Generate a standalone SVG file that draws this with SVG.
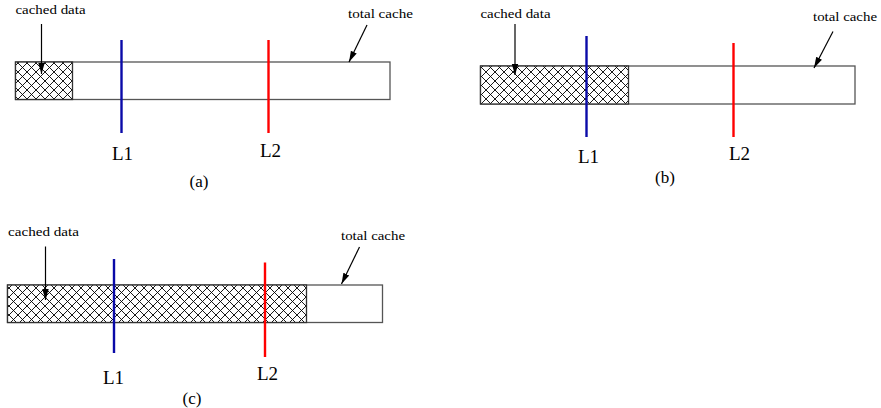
<svg xmlns="http://www.w3.org/2000/svg" width="881" height="408" viewBox="0 0 881 408">
  <style>
    .bar { fill: #ffffff; stroke: #555555; stroke-width: 1.3; }
    .fill { fill: url(#xhatch); stroke: #333333; stroke-width: 1.3; }
    .l1 { stroke: #0a0aa8; stroke-width: 2.4; }
    .l2 { stroke: #ff0000; stroke-width: 2.4; }
    .small { font-family: "Liberation Serif", "Times New Roman", serif; font-size: 13.5px; fill: #000; }
    .big { font-family: "Liberation Serif", "Times New Roman", serif; font-size: 19px; fill: #000; }
    .cap { font-family: "Liberation Serif", "Times New Roman", serif; font-size: 17px; fill: #000; text-anchor: middle; }
    .arrow { stroke: #000; stroke-width: 1.2; fill: none; marker-end: url(#head); }
  </style>
  <defs>
    <pattern id="xhatch" patternUnits="userSpaceOnUse" width="9" height="9">
      <rect width="9" height="9" fill="#ffffff"/>
      <path d="M0,0 L9,9 M9,0 L0,9" stroke="#000" stroke-width="0.9"/>
    </pattern>
    <marker id="head" markerWidth="12" markerHeight="8" refX="11" refY="4" orient="auto" markerUnits="userSpaceOnUse">
      <path d="M0,0.8 L11,4 L0,7.2 Z" fill="#000"/>
    </marker>
  </defs>

  <!-- panel (a) -->
  <g id="bar-a">
    <rect class="bar" x="15.5" y="62" width="374.5" height="37.5"/>
    <rect class="fill" x="15.5" y="62" width="57" height="37.5"/>
  </g>
  <g id="level-a">
    <line class="l1" x1="121.5" y1="40" x2="121.5" y2="133"/>
    <line class="l2" x1="268.5" y1="40" x2="268.5" y2="133"/>
    <text class="big" x="112" y="160">L1</text>
    <text class="big" x="260" y="157">L2</text>
  </g>
  <g id="labels-a">
    <text class="small" x="15.5" y="13.5" textLength="70" lengthAdjust="spacingAndGlyphs">cached data</text>
    <text class="small" x="348" y="17.5" textLength="65" lengthAdjust="spacingAndGlyphs">total cache</text>
    <text class="cap" x="199" y="187">(a)</text>
  </g>

  <!-- panel (b) -->
  <g id="bar-b">
    <rect class="bar" x="480.5" y="66" width="374.5" height="38"/>
    <rect class="fill" x="480.5" y="66" width="148" height="38"/>
  </g>
  <g id="level-b">
    <line class="l1" x1="586.5" y1="36" x2="586.5" y2="137"/>
    <line class="l2" x1="733.5" y1="43" x2="733.5" y2="137"/>
    <text class="big" x="578" y="163">L1</text>
    <text class="big" x="729" y="160">L2</text>
  </g>
  <g id="labels-b">
    <text class="small" x="480.5" y="17.5" textLength="70" lengthAdjust="spacingAndGlyphs">cached data</text>
    <text class="small" x="813" y="20.5" textLength="64" lengthAdjust="spacingAndGlyphs">total cache</text>
    <text class="cap" x="665" y="183">(b)</text>
  </g>

  <!-- panel (c) -->
  <g id="bar-c">
    <rect class="bar" x="7.5" y="285" width="375" height="37.5"/>
    <rect class="fill" x="7.5" y="285" width="299" height="37.5"/>
  </g>
  <g id="level-c">
    <line class="l1" x1="114" y1="259" x2="114" y2="353"/>
    <line class="l2" x1="265" y1="262.5" x2="265" y2="357"/>
    <text class="big" x="103" y="383.5">L1</text>
    <text class="big" x="257" y="379.5">L2</text>
  </g>
  <g id="labels-c">
    <text class="small" x="8" y="235.5" textLength="71" lengthAdjust="spacingAndGlyphs">cached data</text>
    <text class="small" x="341" y="239.5" textLength="64" lengthAdjust="spacingAndGlyphs">total cache</text>
    <text class="cap" x="192" y="404">(c)</text>
  </g>

  <!-- pointer arrows -->
  <g id="connectors">
    <line class="arrow" x1="41.5" y1="24" x2="41.5" y2="74"/>
    <line class="arrow" x1="367" y1="25" x2="349" y2="62"/>
    <line class="arrow" x1="515" y1="24" x2="515" y2="75"/>
    <line class="arrow" x1="833" y1="31.5" x2="814" y2="68"/>
    <line class="arrow" x1="45.5" y1="246.5" x2="45.5" y2="300"/>
    <line class="arrow" x1="359.5" y1="247" x2="341.5" y2="284"/>
  </g>
</svg>
